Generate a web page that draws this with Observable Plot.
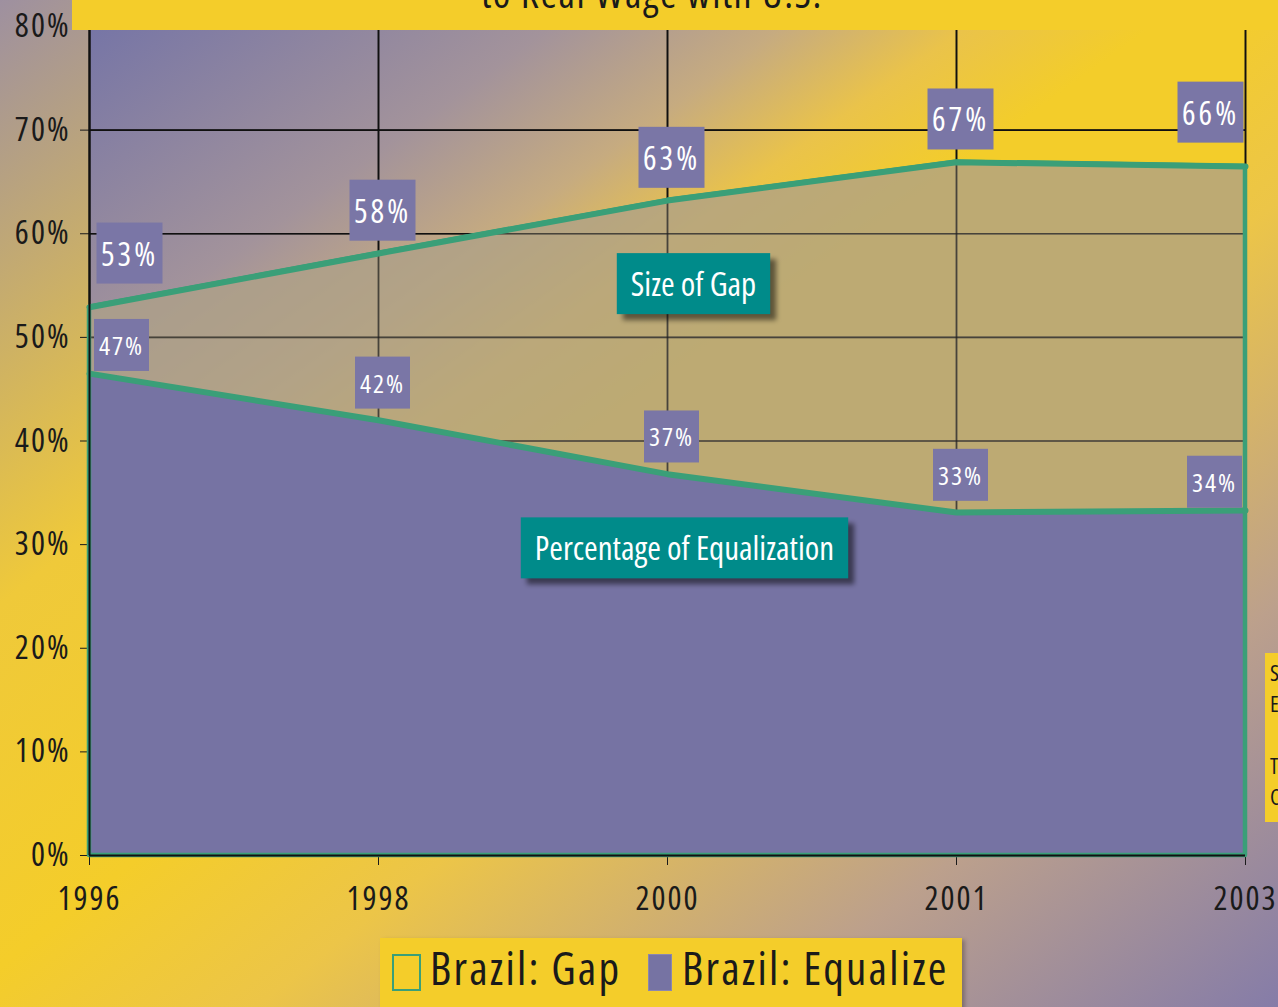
<!DOCTYPE html>
<html><head><meta charset="utf-8">
<script src="https://cdn.jsdelivr.net/npm/d3@7"></script>
<script src="https://cdn.jsdelivr.net/npm/@observablehq/plot@0.6"></script>
<style>
body{margin:0;}
#page{position:relative;width:1278px;height:1007px;overflow:hidden;
 background:linear-gradient(to bottom right,#9e90a0 0%,#efc93a 30%,#f4cd2a 48%,#ecc548 60%,#bca08c 80%,#857ca8 100%);
 font-family:"Open Sans",sans-serif;font-stretch:75%;color:#1a1a1a;}
#chart{position:absolute;left:0;top:0;}
#topband{position:absolute;left:72px;top:0;width:1206px;height:30px;background:#f4cd2a;overflow:hidden;}
#topband span{position:absolute;left:0;width:1160px;text-align:center;top:-35px;font-size:40px;letter-spacing:1.5px;white-space:nowrap;}
#sidebox{position:absolute;left:1265px;top:653px;width:30px;height:169px;background:#f4cd2a;font-size:22px;line-height:31px;padding-left:5px;padding-top:4px;box-sizing:border-box;}
#legend{position:absolute;left:380px;top:938px;width:582px;height:80px;background:#f4cd2a;box-shadow:3px 2px 4px rgba(0,0,0,0.25);}
#legend .sw{position:absolute;top:16px;height:37px;box-sizing:border-box;}
#legend .tx{position:absolute;top:2px;font-size:45px;line-height:56px;letter-spacing:2.2px;white-space:nowrap;}
</style>
</head><body>
<svg width="0" height="0" style="position:absolute">
 <defs>
  <linearGradient id="plotbg" x1="0" y1="0" x2="1" y2="1">
   <stop offset="0" stop-color="#7675a6"/>
   <stop offset="0.2" stop-color="#a3939b"/>
   <stop offset="0.3" stop-color="#c6ab80"/>
   <stop offset="0.38" stop-color="#eac34a"/>
   <stop offset="0.46" stop-color="#f3cd2a"/>
   <stop offset="1" stop-color="#f3cd2a"/>
  </linearGradient>
  <filter id="shadow" x="-20%" y="-20%" width="140%" height="140%">
   <feGaussianBlur stdDeviation="2.5"/>
  </filter>
 </defs>
</svg>
<div id="page">
 <div id="chart"></div>
 <div id="topband"><span>to Real Wage with U.S.</span></div>
 <div id="sidebox">S<br>E<br><br>T<br>C</div>
 <div id="legend"></div>
</div>
<script>
const years = ["1996","1998","2000","2001","2003"];
const gapValues = [52.9, 58.1, 63.2, 66.9, 66.5];
const equalizeValues = [46.5, 42.0, 36.8, 33.1, 33.3];
const gapLabels = ["53%","58%","63%","67%","66%"];
const equalizeLabels = ["47%","42%","37%","33%","34%"];
const yTicks = [0,10,20,30,40,50,60,70,80];
const seriesNames = ["Brazil: Gap","Brazil: Equalize"];
const calloutTexts = ["Size of Gap","Percentage of Equalization"];
const calloutYears = ["2000","2000"];
const calloutValues = [55, 29.5];

const GREEN = "#3a9f78", PURPLE = "#7673a3", TEAL = "#008b8a";

const rows = years.map((y,i)=>({year:y, gap:gapValues[i], eq:equalizeValues[i], gl:gapLabels[i], el:equalizeLabels[i]}));
const callouts = calloutTexts.map((t,i)=>({text:t, year:calloutYears[i], v:calloutValues[i]}));
const last = rows.length - 1;
const first = (d,i)=>i===0, mid = (d,i)=>i>0 && i<last, end = (d,i)=>i===last;

const chart = Plot.plot({
  width: 1278, height: 930,
  marginLeft: 89, marginRight: 33, marginTop: 26, marginBottom: 75,
  style: {background:"transparent", fontSize:"33px", fontFamily:'"Open Sans",sans-serif', fontStretch:"75%", letterSpacing:"2px", color:"#1a1a1a", overflow:"visible"},
  x: {type:"point", domain: years, padding:0, label:null, tickSize:10, tickPadding:21},
  y: {domain:[0,80], ticks: yTicks, tickFormat: d=>d+"%", tickSize:9, tickPadding:10, label:null},
  marks: [
    Plot.frame({fill:"url(#plotbg)", stroke:"none"}),
    Plot.ruleY(yTicks, {stroke:"#111", strokeWidth:1.7}),
    Plot.ruleX(years, {stroke:"#111", strokeWidth:1.7}),
    Plot.areaY(rows, {x:"year", y:"gap", fill:"rgb(173,160,136)", fillOpacity:0.78}),
    Plot.ruleY(yTicks, {stroke:"#111", strokeWidth:1.7, strokeOpacity:0.55}),
    Plot.ruleX(years, {stroke:"#111", strokeWidth:1.7, strokeOpacity:0.55}),
    Plot.areaY(rows, {x:"year", y:"eq", fill:PURPLE}),
    Plot.areaY(rows, {x:"year", y:"gap", fill:"none", stroke:GREEN, strokeWidth:4.5}),
    Plot.lineY(rows, {x:"year", y:"gap", stroke:GREEN, strokeWidth:6}),
    Plot.lineY(rows, {x:"year", y:"eq", stroke:GREEN, strokeWidth:6}),
    Plot.ruleY([0], {stroke:"#111", strokeWidth:2}),
    Plot.ruleX([years[0]], {stroke:"#111", strokeWidth:2}),
    Plot.text(rows, {filter:first, x:"year", y:"gap", text:"gl", dx:40, dy:-52, fill:"white", fontSize:32}),
    Plot.text(rows, {filter:mid, x:"year", y:"gap", text:"gl", dx:4, dy:-41, fill:"white", fontSize:32}),
    Plot.text(rows, {filter:end, x:"year", y:"gap", text:"gl", dx:-35, dy:-52, fill:"white", fontSize:32}),
    Plot.text(rows, {filter:first, x:"year", y:"eq", text:"el", dx:32, dy:-27, fill:"white", fontSize:26}),
    Plot.text(rows, {filter:mid, x:"year", y:"eq", text:"el", dx:4, dy:-36, fill:"white", fontSize:26}),
    Plot.text(rows, {filter:end, x:"year", y:"eq", text:"el", dx:-31, dy:-27, fill:"white", fontSize:26}),
    Plot.text(callouts, {filter:(d,i)=>i===0, x:"year", y:"v", text:"text", dx:26, fill:"white", fontSize:33}),
    Plot.text(callouts, {filter:(d,i)=>i===1, x:"year", y:"v", text:"text", dx:17, fill:"white", fontSize:33})
  ]
});
document.getElementById("chart").appendChild(chart);

// draw label boxes behind the text marks (in mark order)
const NS = "http://www.w3.org/2000/svg";
const textGroups = Array.from(chart.querySelectorAll("g")).filter(g => g.querySelector(":scope > text") && g.getAttribute("aria-label") === "text");
const kinds = ["gap","gap","gap","eq","eq","eq","call","call"];
const spec = {gap:[66,61,"#7a76a6",false,"3px"], eq:[55,52,"#7a76a6",false,"2px"], call:[null,61,TEAL,true,"0px"]};
textGroups.forEach((g,gi)=>{
  const kind = kinds[gi] || "gap";
  const [w,h,fill,shadow,ls] = spec[kind];
  g.style.letterSpacing = ls;
  g.querySelectorAll("text").forEach(t=>{
    const b = t.getBBox();
    const cx = b.x + b.width/2, cy = b.y + b.height/2;
    const W = w != null ? w : b.width + 28;
    const tr = t.getAttribute("transform");
    const mk = (dx,dy,f)=>{
      const r = document.createElementNS(NS,"rect");
      r.setAttribute("x", cx - W/2 + dx); r.setAttribute("y", cy - h/2 + dy);
      r.setAttribute("width", W); r.setAttribute("height", h);
      r.setAttribute("fill", f);
      if (tr) r.setAttribute("transform", tr);
      return r;
    };
    if (shadow){
      const s = mk(6,6,"rgba(0,0,0,0.5)");
      s.setAttribute("filter","url(#shadow)");
      t.parentNode.insertBefore(s, t);
    }
    t.parentNode.insertBefore(mk(0,0,fill), t);
  });
});

// legend
const lg = document.getElementById("legend");
const lefts = [[12, 50],[268, 302]];
seriesNames.forEach((n,i)=>{
  const sw = document.createElement("div");
  sw.className = "sw";
  sw.style.left = lefts[i][0] + "px";
  if (i===0){ sw.style.width="29px"; sw.style.border = "2px solid "+GREEN; }
  else { sw.style.width="24px"; sw.style.background = PURPLE; sw.style.border="1px solid #8a86b0"; }
  lg.appendChild(sw);
  const tx = document.createElement("div");
  tx.className = "tx"; tx.textContent = n; tx.style.left = lefts[i][1] + "px";
  lg.appendChild(tx);
});
</script>
</body></html>
